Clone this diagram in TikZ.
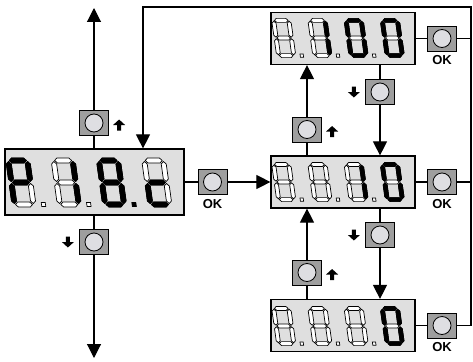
\documentclass[tikz,border=0pt]{standalone}
\usepackage{fontspec}
\setsansfont{Liberation Sans}
\usepackage{tikz}
\usetikzlibrary{arrows.meta,positioning}
\definecolor{lcdface}{RGB}{223,223,223}
\definecolor{keygray}{RGB}{158,158,158}
\definecolor{keylight}{RGB}{222,222,226}
\tikzset{
  lcdpanel/.style={draw, line width=1.2pt, fill=lcdface, inner sep=0pt,
    minimum width=144pt, minimum height=52pt},
  keybox/.style={draw, line width=.8pt, fill=keygray, inner sep=0pt,
    minimum width=29pt, minimum height=25pt,
    path picture={\draw[fill=keylight, line width=.8pt]
      (path picture bounding box.center) circle[radius=9pt];}},
  oklabel/.style={font=\sffamily\bfseries\fontsize{13}{13}\selectfont,
    inner sep=0pt},
  % Heavy arrow marks beside the up and down keys.
  upmark/.style={inner sep=0pt, minimum width=12pt, minimum height=11pt,
    path picture={\fill ([yshift=5.5pt]path picture bounding box.center)
      -- ++(6,5.5) -- ++(-4,0) -- ++(0,5.5) -- ++(-4,0) -- ++(0,-5.5)
      -- ++(-4,0) -- cycle;}},
  downmark/.style={inner sep=0pt, minimum width=12pt, minimum height=11pt,
    path picture={\fill ([yshift=-5.5pt]path picture bounding box.center)
      -- ++(6,-5.5) -- ++(-4,0) -- ++(0,-5.5) -- ++(-4,0) -- ++(0,5.5)
      -- ++(-4,0) -- cycle;}},
  link/.style={line width=1.1pt},
  flow/.style={link, -{Triangle[width=14pt,length=14pt]}},
  segoff/.style={draw=black, fill=white, line width=.7pt},
  segon/.style={draw=black, fill=black, line width=.7pt}
}
% One bar of a seven-segment digit: style, start, end, offset.
\newcommand{\hseg}[4]{%
  \draw[#1] ({#2+1},#4) -- ({#2+3.5},{#4+2.5}) -- ({#3-3.5},{#4+2.5})
    -- ({#3-1},#4) -- ({#3-3.5},{#4-2.5}) -- ({#2+3.5},{#4-2.5}) -- cycle;}
\newcommand{\vseg}[4]{%
  \draw[#1] (#2,{#3+1}) -- ({#2+2.5},{#3+3.5}) -- ({#2+2.5},{#4-3.5})
    -- (#2,{#4-1}) -- ({#2-2.5},{#4-3.5}) -- ({#2-2.5},{#3+3.5}) -- cycle;}
\newcommand{\sega}[1]{\hseg{#1}{0}{19}{44}}
\newcommand{\segb}[1]{\vseg{#1}{19}{22}{44}}
\newcommand{\segc}[1]{\vseg{#1}{19}{0}{22}}
\newcommand{\segd}[1]{\hseg{#1}{0}{19}{0}}
\newcommand{\sege}[1]{\vseg{#1}{0}{0}{22}}
\newcommand{\segf}[1]{\vseg{#1}{0}{22}{44}}
\newcommand{\segg}[1]{\hseg{#1}{0}{19}{22}}
\newcommand{\segx}[1]{}
% Decimal point: white, black or none.
\newcommand{\dotw}{\draw[segoff] (27,-2) rectangle (31,2);}
\newcommand{\dotb}{\draw[segon] (27,-2) rectangle (31,2);}
\newcommand{\dotn}{}
\newcommand{\lcddigit}[4]{%
  \begin{scope}[shift={#1}, scale=#2, yscale=-1, xslant=.14]
    \foreach \sg in {a,b,c,d,e,f,g}{\csname seg\sg\endcsname{segoff}}
    \foreach \sg in {#3}{\csname seg\sg\endcsname{segon}}
    \csname dot#4\endcsname
  \end{scope}}

\begin{document}
\begin{tikzpicture}[x=1pt, y=-1pt]
  \useasboundingbox (0,0) rectangle (473,361);

  % Displays.
  \node[lcdpanel, minimum width=179pt, minimum height=66pt] (p18c)
    at (94.5,182) {};
  \node[lcdpanel] (dsp100) at (343,38.5) {};
  \node[lcdpanel] (dsp10) at (343,182) {};
  \node[lcdpanel] (dsp0) at (343,325.5) {};

  % Keys.
  \node[keybox] (upl) at (94,123) {};
  \node[keybox] (dnl) at (94,242) {};
  \node[keybox] (okl) at (212.5,182) {};
  \node[keybox] (oka) at (442,38.5) {};
  \node[keybox] (okb) at (442,182) {};
  \node[keybox] (okc) at (442,325.5) {};
  \node[keybox] (upa) at (307,129.5) {};
  \node[keybox] (dna) at (380,92) {};
  \node[keybox] (upb) at (307,272.5) {};
  \node[keybox] (dnb) at (380,235) {};

  \node[oklabel, below=4pt of okl] (okltext) {OK};
  \node[oklabel, below=4pt of oka] (okatext) {OK};
  \node[oklabel, below=4pt of okb] (okbtext) {OK};
  \node[oklabel, below=4pt of okc] (okctext) {OK};
  \node[upmark, right=4pt of upl, yshift=-2pt] (uplmark) {};
  \node[downmark, left=5pt of dnl] (dnlmark) {};
  \node[upmark, right=4pt of upa, yshift=-2pt] (upamark) {};
  \node[downmark, left=5pt of dna] (dnamark) {};
  \node[upmark, right=4pt of upb, yshift=-2pt] (upbmark) {};
  \node[downmark, left=5pt of dnb] (dnbmark) {};

  \coordinate (exitup) at (94,8);
  \coordinate (exitdn) at (94,358);
  \coordinate (loopne) at (471,7);

  % Left column.
  \draw[link] (p18c.north -| upl) -- (upl);
  \draw[flow] (upl) -- (exitup);
  \draw[link] (p18c.south -| dnl) -- (dnl);
  \draw[flow] (dnl) -- (exitdn);
  \draw[link] (p18c) -- (okl);
  \draw[flow] (okl) -- (dsp10);

  % OK keys and the return loop.
  \draw[link] (dsp100) -- (oka);
  \draw[link] (dsp10) -- (okb);
  \draw[link] (dsp0) -- (okc);
  \draw[link] (oka) -- (oka -| loopne);
  \draw[link] (okb) -- (okb -| loopne);
  \draw[flow] (okc) -| (loopne) -| ([xshift=48.5pt]p18c.north);

  % Up and down between the right displays.
  \draw[link] (dsp10.north -| upa) -- (upa);
  \draw[flow] (upa) -- (dsp100.south -| upa);
  \draw[link] (dsp100.south -| dna) -- (dna);
  \draw[flow] (dna) -- (dsp10.north -| dna);
  \draw[link] (dsp0.north -| upb) -- (upb);
  \draw[flow] (upb) -- (dsp10.south -| upb);
  \draw[link] (dsp10.south -| dnb) -- (dnb);
  \draw[flow] (dnb) -- (dsp0.north -| dnb);

  % Digits.
  \lcddigit{(14.5,204.5)}{1}{a,b,e,f,g}{w}
  \lcddigit{(59.8,204.5)}{1}{b,c}{w}
  \lcddigit{(105.1,204.5)}{1}{a,b,c,d,e,f,g}{b}
  \lcddigit{(150.4,204.5)}{1}{d,e,g}{n}

  \lcddigit{(278.6,55.6)}{.8}{x}{w}
  \lcddigit{(314.8,55.6)}{.8}{b,c}{w}
  \lcddigit{(351,55.6)}{.8}{a,b,c,d,e,f}{w}
  \lcddigit{(387.2,55.6)}{.8}{a,b,c,d,e,f}{n}

  \lcddigit{(278.6,199.6)}{.8}{x}{w}
  \lcddigit{(314.8,199.6)}{.8}{x}{w}
  \lcddigit{(351,199.6)}{.8}{b,c}{w}
  \lcddigit{(387.2,199.6)}{.8}{a,b,c,d,e,f}{n}

  \lcddigit{(278.6,343.6)}{.8}{x}{w}
  \lcddigit{(314.8,343.6)}{.8}{x}{w}
  \lcddigit{(351,343.6)}{.8}{x}{w}
  \lcddigit{(387.2,343.6)}{.8}{a,b,c,d,e,f}{n}
\end{tikzpicture}
\end{document}
